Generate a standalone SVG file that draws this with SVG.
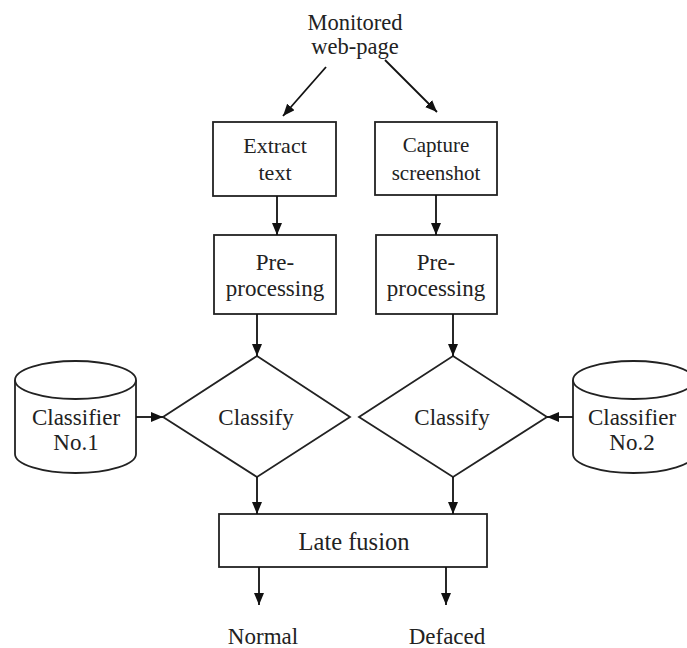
<svg xmlns="http://www.w3.org/2000/svg" width="687" height="648" viewBox="0 0 687 648">
<style>
.s{fill:#fff;stroke:#222;stroke-width:1.8}
.t{font-family:"Liberation Serif","Times New Roman",serif;font-size:23px;fill:#222;text-anchor:middle}
.c{stroke:#111;stroke-width:1.8;fill:none;marker-end:url(#ah)}
</style>
<defs>
<marker id="ah" viewBox="0 0 12 10" refX="12" refY="5" markerWidth="12" markerHeight="10" markerUnits="userSpaceOnUse" orient="auto">
<path d="M0,0 L12,5 L0,10 Z" fill="#111"/>
</marker>
</defs>
<rect width="687" height="648" fill="#fff"/>
<g id="monitored"><text class="t" x="355" y="30" style="font-size:22.5px">Monitored</text><text class="t" x="355" y="54" style="font-size:22.5px">web-page</text></g>
<g id="extract"><rect class="s" x="213" y="122" width="123" height="74"/><text class="t" x="275" y="153" style="font-size:22px">Extract</text><text class="t" x="275" y="180" style="font-size:22px">text</text></g>
<g id="capture"><rect class="s" x="375" y="122" width="122" height="73"/><text class="t" x="436" y="152" style="font-size:21px">Capture</text><text class="t" x="436" y="180" style="font-size:21px">screenshot</text></g>
<g id="pre1"><rect class="s" x="214" y="235" width="122" height="79"/><text class="t" x="275" y="270">Pre-</text><text class="t" x="275" y="296">processing</text></g>
<g id="pre2"><rect class="s" x="376" y="235" width="121" height="79"/><text class="t" x="436" y="270">Pre-</text><text class="t" x="436" y="296">processing</text></g>
<g id="classify1"><path class="s" d="M257,356 L350,417 L257,477 L163,417 Z"/><text class="t" x="256" y="425">Classify</text></g>
<g id="classify2"><path class="s" d="M453,356 L547,417 L453,477 L359,417 Z"/><text class="t" x="452" y="425">Classify</text></g>
<g id="classifier1"><path class="s" d="M15,380 L15,454 A60.5,19 0 0 0 136,454 L136,380"/><ellipse class="s" cx="75.5" cy="380" rx="60.5" ry="19"/><text class="t" x="76" y="425">Classifier</text><text class="t" x="76" y="450">No.1</text></g>
<g id="classifier2"><path class="s" d="M573,380 L573,454 A60.5,19 0 0 0 694,454 L694,380"/><ellipse class="s" cx="633.5" cy="380" rx="60.5" ry="19"/><text class="t" x="632" y="425">Classifier</text><text class="t" x="632" y="450">No.2</text></g>
<g id="fusion"><rect class="s" x="219" y="514" width="268" height="53"/><text class="t" x="354" y="550" style="font-size:24.5px">Late fusion</text></g>
<g id="normal"><text class="t" x="263" y="644">Normal</text></g>
<g id="defaced"><text class="t" x="447" y="644">Defaced</text></g>
<g id="connectors">
<line class="c" x1="326" y1="67" x2="283" y2="116"/>
<line class="c" x1="385" y1="60" x2="437" y2="112"/>
<line class="c" x1="277" y1="196" x2="277" y2="235"/>
<line class="c" x1="436" y1="195" x2="436" y2="235"/>
<line class="c" x1="257" y1="314" x2="257" y2="356"/>
<line class="c" x1="453" y1="314" x2="453" y2="356"/>
<line class="c" x1="136" y1="417" x2="163" y2="417"/>
<line class="c" x1="573" y1="417" x2="547" y2="417"/>
<line class="c" x1="257" y1="477" x2="257" y2="514"/>
<line class="c" x1="453" y1="477" x2="453" y2="514"/>
<line class="c" x1="259" y1="567" x2="259" y2="605"/>
<line class="c" x1="446" y1="567" x2="446" y2="605"/>
</g>
</svg>
